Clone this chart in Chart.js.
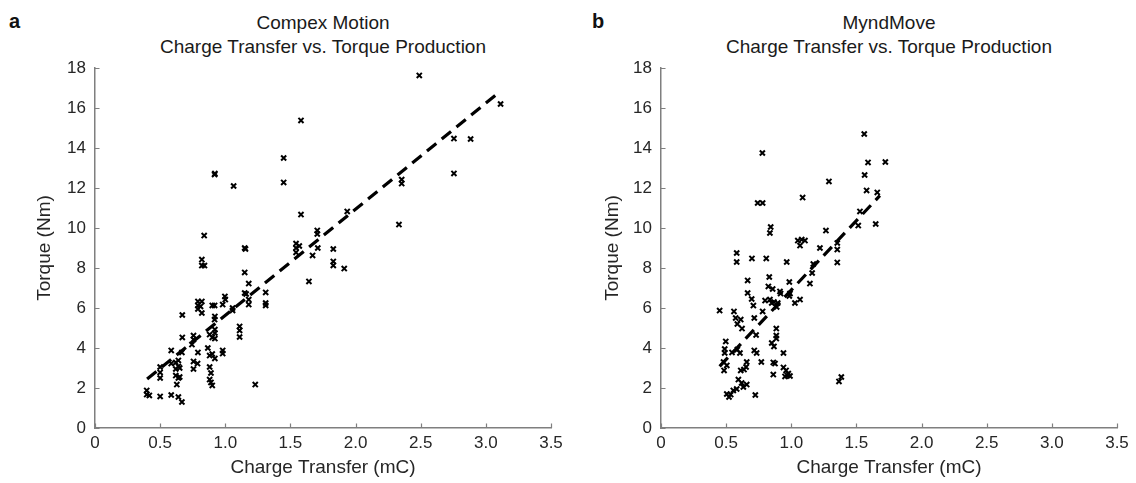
<!DOCTYPE html>
<html>
<head>
<meta charset="utf-8">
<script src="https://cdn.jsdelivr.net/npm/chart.js@4/dist/chart.umd.min.js"></script>
<style>
  html, body { margin: 0; padding: 0; background: #ffffff; }
  body { width: 1136px; height: 483px; position: relative; overflow: hidden; font-family: "Liberation Sans", Arial, sans-serif; }
  canvas { position: absolute; top: 0; }
  .title { position: absolute; top: 11px; width: 520px; text-align: center; font-size: 19px; line-height: 24px; color: #1a1a1a; }
  .panel { position: absolute; top: 10px; font-size: 20px; font-weight: bold; color: #111; }
</style>
</head>
<body>
<div class="panel" style="left:9px;">a</div>
<div class="panel" style="left:592px;">b</div>
<div class="title" style="left:63px;">Compex Motion<br>Charge Transfer vs. Torque Production</div>
<div class="title" style="left:629px;">MyndMove<br>Charge Transfer vs. Torque Production</div>
<canvas id="c1" width="568" height="483" style="left:0px;width:568px;height:483px;"></canvas>
<canvas id="c2" width="568" height="483" style="left:568px;width:568px;height:483px;"></canvas>
<script>
// ---- tick labels ----
const xTickValues = [0, 0.5, 1, 1.5, 2, 2.5, 3, 3.5];
const yTickValues = [0, 2, 4, 6, 8, 10, 12, 14, 16, 18];
const xAxisTitle = "Charge Transfer (mC)";
const yAxisTitle = "Torque (Nm)";

// ---- Compex Motion (panel a) ----
const compexX = [0.918,0.92,1.064,0.838,0.82,0.82,0.84,1.149,1.155,1.149,1.18,1.149,1.16,1.18,1.18,1.31,1.31,1.31,0.997,1.0,0.98,0.9,0.918,1.056,1.056,0.79,0.82,0.79,0.81,0.79,0.82,0.67,0.92,0.918,0.92,0.92,0.88,0.9,0.92,1.11,1.11,1.11,0.756,0.756,0.67,0.866,0.585,0.667,0.79,0.744,0.98,0.98,0.88,0.9,0.92,0.585,0.62,0.64,0.62,0.64,0.65,0.62,0.64,0.65,0.756,0.787,0.756,0.5,0.5,0.5,0.628,0.88,0.89,0.88,0.89,0.9,1.23,0.397,0.397,0.417,0.5,0.585,0.64,0.667,2.489,3.113,2.755,2.883,2.755,1.581,1.448,1.448,1.581,2.354,2.354,2.333,1.936,1.706,1.706,1.543,1.543,1.543,1.568,1.71,1.829,1.67,1.829,1.829,1.913,1.642];
const compexY = [12.67,12.72,12.1,9.62,8.42,8.12,8.12,9.0,8.95,7.78,7.22,6.75,6.7,6.42,6.17,6.78,6.25,6.13,6.58,6.42,6.17,6.13,6.13,6.0,5.88,6.33,6.33,6.13,6.08,5.95,5.75,5.65,5.58,5.42,4.92,4.75,4.67,4.53,4.47,5.08,4.88,4.55,4.62,4.42,4.53,4.0,3.88,3.78,3.78,4.17,3.88,3.72,3.62,3.7,3.48,3.22,3.28,3.38,2.95,3.08,3.0,2.62,2.5,2.55,3.33,3.22,2.95,3.05,2.78,2.5,2.17,3.05,2.75,2.42,2.28,2.13,2.17,1.88,1.67,1.63,1.58,1.65,1.55,1.3,17.63,16.2,14.47,14.45,12.73,15.38,13.5,12.28,10.67,12.42,12.22,10.17,10.83,9.88,9.7,9.22,9.0,8.78,9.1,9.0,8.95,8.63,8.33,8.13,7.97,7.33];
const compexFitX = [0.40, 3.10];
const compexFitY = [2.45, 16.78];

// ---- MyndMove (panel b) ----
const myndX = [0.778,0.742,0.78,0.842,0.836,0.581,0.581,0.698,0.808,0.965,0.665,0.831,0.824,0.857,0.799,0.836,0.867,0.665,0.696,0.709,0.985,0.913,0.918,0.896,0.888,0.85,0.78,0.716,0.45,0.56,0.573,0.612,0.586,0.622,0.885,0.885,0.885,0.85,0.867,0.73,0.497,0.489,0.489,0.545,0.586,0.606,0.716,0.734,0.77,0.862,0.875,0.94,0.48,0.505,0.484,0.658,0.612,0.637,0.653,0.94,0.96,0.977,0.862,0.952,0.594,0.619,0.658,0.632,0.581,0.555,0.505,0.535,0.522,0.724,1.56,1.589,1.722,1.563,1.289,1.578,1.66,1.087,1.527,1.514,1.648,1.266,1.05,1.08,1.105,1.067,1.22,1.353,1.353,1.353,1.169,1.16,1.143,0.99,0.985,1.067,1.028,0.99,0.97,1.366,1.384];
const myndY = [13.75,11.25,11.25,10.05,9.75,8.75,8.3,8.48,8.48,8.3,7.38,7.55,7.08,6.95,6.37,6.42,6.3,6.75,6.45,6.12,7.3,6.83,6.72,6.25,6.05,6.25,5.83,5.5,5.87,5.83,5.5,5.42,5.2,4.97,4.97,4.62,4.47,4.25,4.08,4.65,4.33,3.95,3.75,3.78,3.92,3.75,3.88,3.75,3.3,3.28,3.22,3.75,3.3,3.13,2.88,3.3,2.88,2.92,3.05,3.03,2.88,2.72,2.67,2.58,2.42,2.25,2.17,2.05,1.95,1.88,1.7,1.67,1.55,1.65,14.7,13.28,13.3,12.65,12.33,11.88,11.78,11.52,10.83,10.12,10.2,9.87,9.37,9.42,9.37,9.12,9.0,9.25,8.92,8.28,8.2,7.75,7.22,6.72,6.6,6.42,6.25,2.6,2.63,2.33,2.55];
const myndFitX = [0.45, 1.68];
const myndFitY = [3.08, 11.62];

// ---- helpers ----
const FONT = '"Liberation Sans", Arial, sans-serif';
const AXIS_GREY = '#7f7f7f';
const TEXT_DARK = '#262626';

function toPoints(xs, ys) { return xs.map((x, i) => ({ x: x, y: ys[i] })); }

const innerTicks = {
  id: 'innerTicks',
  afterDraw(chart) {
    const ctx = chart.ctx;
    const xs = chart.scales.x, ys = chart.scales.y;
    const a = chart.chartArea;
    ctx.save();
    ctx.strokeStyle = AXIS_GREY;
    ctx.lineWidth = 1.2;
    ctx.beginPath();
    xTickValues.forEach(v => {
      const px = Math.round(xs.getPixelForValue(v)) + 0.5;
      ctx.moveTo(px, a.bottom);
      ctx.lineTo(px, a.bottom - 4.5);
    });
    yTickValues.forEach(v => {
      const py = Math.round(ys.getPixelForValue(v)) + 0.5;
      ctx.moveTo(a.left, py);
      ctx.lineTo(a.left + 4.5, py);
    });
    ctx.stroke();
    ctx.restore();
  }
};

function makeChart(id, xs, ys, fitX, fitY, yAxisWidth, padRight) {
  const ctx = document.getElementById(id).getContext('2d');
  return new Chart(ctx, {
    type: 'scatter',
    data: {
      datasets: [
        {
          type: 'line',
          data: toPoints(fitX, fitY),
          borderColor: '#000000',
          borderWidth: 3.2,
          borderDash: [12, 7],
          pointRadius: 0,
          fill: false,
          tension: 0,
          order: 2
        },
        {
          type: 'scatter',
          data: toPoints(xs, ys),
          pointStyle: 'crossRot',
          pointRadius: 3.6,
          pointBorderWidth: 2,
          borderColor: '#000000',
          backgroundColor: '#000000',
          order: 1
        }
      ]
    },
    options: {
      responsive: false,
      devicePixelRatio: 1,
      animation: false,
      layout: { padding: { left: 0, right: padRight, top: 68, bottom: 0 } },
      plugins: { legend: { display: false }, tooltip: { enabled: false }, title: { display: false } },
      scales: {
        x: {
          type: 'linear',
          min: xTickValues[0],
          max: xTickValues[xTickValues.length - 1],
          afterBuildTicks: (s) => { s.ticks = xTickValues.map(v => ({ value: v })); },
          afterFit: (s) => { s.height = 55; },
          grid: { display: false, drawTicks: false },
          border: { display: true, color: AXIS_GREY, width: 1.5 },
          ticks: { color: TEXT_DARK, font: { family: FONT, size: 17 }, padding: 5, maxRotation: 0, autoSkip: false },
          title: { display: true, text: xAxisTitle, color: TEXT_DARK, font: { family: FONT, size: 19 }, padding: { top: 0, bottom: 4 } }
        },
        y: {
          type: 'linear',
          min: yTickValues[0],
          max: yTickValues[yTickValues.length - 1],
          afterBuildTicks: (s) => { s.ticks = yTickValues.map(v => ({ value: v })); },
          afterFit: (s) => { s.width = yAxisWidth; },
          grid: { display: false, drawTicks: false },
          border: { display: true, color: AXIS_GREY, width: 1.5 },
          ticks: { color: TEXT_DARK, font: { family: FONT, size: 17 }, padding: 9, autoSkip: false },
          title: { display: true, text: yAxisTitle, color: TEXT_DARK, font: { family: FONT, size: 19 }, padding: { top: 33, bottom: 0 } }
        }
      }
    },
    plugins: [innerTicks]
  });
}

makeChart('c1', compexX, compexY, compexFitX, compexFitY, 95, 17);
makeChart('c2', myndX, myndY, myndFitX, myndFitY, 93, 19);
</script>
</body>
</html>
